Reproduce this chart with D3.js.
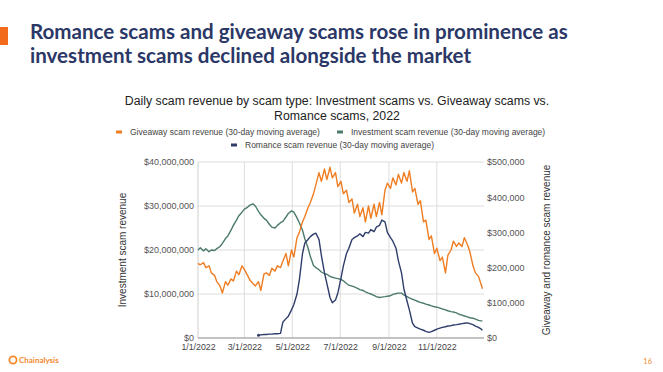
<!DOCTYPE html>
<html><head><meta charset="utf-8">
<script src="https://cdn.jsdelivr.net/npm/d3@7"></script>
<style>
html,body{margin:0;padding:0;background:#fff;}
svg{display:block;}
</style></head>
<body>
<svg id="chart" width="663" height="372"></svg>
<script>
// ---- Data ----
const dayOffsets = [0,3,7,10,14,17,21,24,28,31,35,38,42,45,49,52,56,59,63,66,70,73,77,80,84,87,91,94,98,101,105,108,112,115,119,122,126,129,133,136,140,143,147,150,154,157,161,164,168,171,175,178,182,185,189,192,196,199,203,206,210,213,217,220,224,227,231,234,238,241,245,248,252,255,259,262,266,269,273,276,280,283,287,290,294,297,301,304,308,311,315,318,322,325,329,332,336,339,343,346,350,353,357,360,362];

// Investment scam revenue, 30-day MA (USD millions, left axis)
const investment = [20.0,20.5,19.8,20.3,19.6,20.0,19.9,20.3,20.8,21.5,22.6,23.2,24.5,25.6,26.8,27.8,28.6,29.3,29.7,30.2,30.5,30.0,28.8,28.0,27.2,26.8,25.8,25.2,25.0,25.6,26.2,26.5,27.5,28.3,28.9,28.6,27.3,26.2,24.5,22.5,20.5,18.5,16.5,16.0,15.5,15.0,14.6,14.5,14.0,13.8,13.6,13.5,13.3,13.0,12.4,12.0,11.8,11.6,11.3,11.0,10.8,10.5,10.2,10.0,9.7,9.4,9.2,9.3,9.4,9.5,9.6,9.9,10.1,10.2,10.2,9.8,9.4,9.1,8.8,8.6,8.3,8.1,7.9,7.7,7.5,7.3,7.1,7.0,6.8,6.6,6.4,6.2,6.0,5.9,5.7,5.4,5.2,5.0,4.8,4.6,4.5,4.3,4.0,3.9,3.9];

// Giveaway scam revenue, 30-day MA (USD thousands, right axis)
const giveaway = [212,208,214,200,205,185,178,160,148,128,160,150,168,162,190,180,205,195,178,165,155,148,160,135,182,185,178,198,190,205,200,218,240,205,250,230,285,300,330,345,370,385,410,435,470,445,480,450,485,455,470,430,445,410,420,385,395,355,380,345,370,330,375,340,380,345,385,350,420,440,425,455,435,465,440,470,445,475,415,425,380,390,330,335,280,290,240,255,220,230,185,235,250,275,260,270,260,285,265,245,205,185,175,155,140];

// Romance scam revenue, 30-day MA (USD thousands, right axis); null = no data
const romance = [null,null,null,null,null,null,null,null,null,null,null,null,null,null,null,null,null,null,null,null,null,null,8,9,10,10,11,11,12,12,13,45,55,62,80,95,125,165,240,270,280,288,295,298,280,235,185,155,115,100,108,128,170,205,240,255,280,285,290,296,288,300,298,308,302,315,320,335,330,300,285,275,255,220,185,140,105,80,42,32,28,25,22,19,16,18,22,25,28,30,32,34,35,37,38,39,41,42,43,41,38,34,30,26,22];

const leftTicks = [0,10,20,30,40];          // millions
const rightTicks = [0,100,200,300,400,500]; // thousands
const xTickLabels = ["1/1/2022","3/1/2022","5/1/2022","7/1/2022","9/1/2022","11/1/2022"];

const titleLines = ["Romance scams and giveaway scams rose in prominence as","investment scams declined alongside the market"];
const chartTitleLines = ["Daily scam revenue by scam type: Investment scams vs. Giveaway scams vs.","Romance scams, 2022"];
const seriesNames = ["Giveaway scam revenue (30-day moving average)","Investment scam revenue (30-day moving average)","Romance scam revenue (30-day moving average)"];
const colors = {giveaway:"#ef7d22", investment:"#4b7a6c", romance:"#2f3d6b"};

// ---- Drawing ----
const svg = d3.select("#chart");
const start = new Date(2022,0,1);
const dates = dayOffsets.map(d => d3.timeDay.offset(start, d));
const parseTick = d3.timeParse("%m/%d/%Y");

const plot = {left:198, right:484, top:162, bottom:338};
const x = d3.scaleTime().domain([start, new Date(2022,11,31)]).range([plot.left, plot.right]);
const yL = d3.scaleLinear().domain([0,40]).range([plot.bottom, plot.top]);
const yR = d3.scaleLinear().domain([0,500]).range([plot.bottom, plot.top]);

function fit(sel, base, target){
  const w = sel.node().getComputedTextLength();
  return base * target / w;
}

// header
svg.append("rect").attr("x",0).attr("y",27).attr("width",8).attr("height",18).attr("fill","#f26a1b");
const titleFont = "Lato, 'Noto Sans', sans-serif";
const tl = svg.append("g");
titleLines.forEach((t,i) => {
  tl.append("text").attr("x",30).attr("y",39 + i*24)
    .attr("font-family",titleFont).attr("font-weight",700).attr("font-size",20)
    .attr("fill","#2b3766").text(t);
});
tl.selectAll("text").attr("font-size", fit(tl.select("text"), 20, 538));

const chartFont = "'Liberation Sans', Arial, sans-serif";
const ct = svg.append("g");
chartTitleLines.forEach((t,i) => {
  ct.append("text").attr("x",337).attr("y",105 + i*15).attr("text-anchor","middle")
    .attr("font-family",chartFont).attr("font-size",12.5).attr("fill","#222").text(t);
});
ct.selectAll("text").attr("font-size", fit(ct.select("text"), 12.5, 425));

// legend
const legend = svg.append("g").attr("font-family",chartFont).attr("font-size",9).attr("fill","#444");
const legItems = [
  {name:seriesNames[0], color:colors.giveaway, x:116, y:132},
  {name:seriesNames[1], color:colors.investment, x:337, y:132},
  {name:seriesNames[2], color:colors.romance, x:231, y:145}
];
legItems.forEach(it => {
  legend.append("rect").attr("x",it.x).attr("y",it.y-1.5).attr("width",6).attr("height",3).attr("fill",it.color);
  legend.append("text").attr("x",it.x+14).attr("y",it.y+3.2).text(it.name);
});
legend.attr("font-size", fit(legend.select("text"), 9, 190));

// gridlines
const grid = svg.append("g");
grid.selectAll("line.h").data(leftTicks.slice(1)).join("line")
  .attr("x1",plot.left).attr("x2",plot.right).attr("y1",d=>yL(d)).attr("y2",d=>yL(d))
  .attr("stroke","#dcdcdc").attr("stroke-width",1);
grid.selectAll("line.v").data(xTickLabels.slice(1)).join("line")
  .attr("x1",d=>x(parseTick(d))).attr("x2",d=>x(parseTick(d)))
  .attr("y1",plot.top).attr("y2",plot.bottom)
  .attr("stroke","#dcdcdc").attr("stroke-width",1);
svg.append("line").attr("x1",plot.left).attr("x2",plot.left).attr("y1",plot.top).attr("y2",plot.bottom)
  .attr("stroke","#cfcfcf");

// axes
const fmtL = v => "$" + d3.format(",")(v*1e6);
const fmtR = v => "$" + d3.format(",")(v*1e3);
const axL = svg.append("g").attr("transform",`translate(${plot.left-4},0)`)
  .call(d3.axisLeft(yL).tickValues(leftTicks).tickFormat(fmtL).tickSize(0).tickPadding(0));
const axR = svg.append("g").attr("transform",`translate(${plot.right+3},0)`)
  .call(d3.axisRight(yR).tickValues(rightTicks).tickFormat(fmtR).tickSize(0).tickPadding(0));
const axB = svg.append("g").attr("transform",`translate(0,${plot.bottom})`)
  .call(d3.axisBottom(x).tickValues(xTickLabels.map(parseTick)).tickFormat(d3.timeFormat("%-m/%-d/%Y")).tickSize(0).tickPadding(5.5));
[axL,axR,axB].forEach(a => {
  a.select(".domain").remove();
  a.selectAll("text").attr("font-family",chartFont).attr("font-size",9).attr("fill","#555");
});
axL.selectAll(".tick text").attr("dy","0.25em");
axB.selectAll("text").attr("fill","#444").attr("font-size",8.8);
svg.append("line").attr("x1",plot.left).attr("x2",plot.right).attr("y1",plot.bottom).attr("y2",plot.bottom)
  .attr("stroke","#888").attr("stroke-width",1.2);

// axis titles
svg.append("text").attr("transform","translate(126,250) rotate(-90)").attr("text-anchor","middle")
  .attr("font-family",chartFont).attr("font-size",10).attr("fill","#333").text("Investment scam revenue");
svg.append("text").attr("transform","translate(550,250) rotate(-90)").attr("text-anchor","middle")
  .attr("font-family",chartFont).attr("font-size",10).attr("fill","#333").text("Giveaway and romance scam revenue");

// lines
const lineL = d3.line().defined(d=>d.v!=null).x(d=>x(d.date)).y(d=>yL(d.v));
const lineR = d3.line().defined(d=>d.v!=null).x(d=>x(d.date)).y(d=>yR(d.v));
const mk = arr => arr.map((v,i)=>({date:dates[i], v}));
const lines = svg.append("g").attr("fill","none").attr("stroke-width",1.4).attr("stroke-linejoin","round");
lines.append("path").attr("d",lineL(mk(investment))).attr("stroke",colors.investment);
lines.append("path").attr("d",lineR(mk(romance))).attr("stroke",colors.romance);
lines.append("path").attr("d",lineR(mk(giveaway))).attr("stroke",colors.giveaway);
const firstRom = romance.findIndex(v=>v!=null);
svg.append("circle").attr("cx",x(dates[firstRom])).attr("cy",yR(romance[firstRom])).attr("r",1.5).attr("fill",colors.romance);

// footer
const ft = svg.append("g");
ft.append("circle").attr("cx",13).attr("cy",360).attr("r",3.6).attr("fill","none").attr("stroke","#f3882d").attr("stroke-width",1.8);
ft.append("text").attr("x",19).attr("y",363).attr("font-family",titleFont).attr("font-weight",700)
  .attr("font-size",8).attr("fill","#f3882d").text("Chainalysis");
ft.append("text").attr("x",652).attr("y",364).attr("text-anchor","end").attr("font-family",titleFont)
  .attr("font-size",7.5).attr("fill","#f3882d").text("16");
</script>
</body></html>
